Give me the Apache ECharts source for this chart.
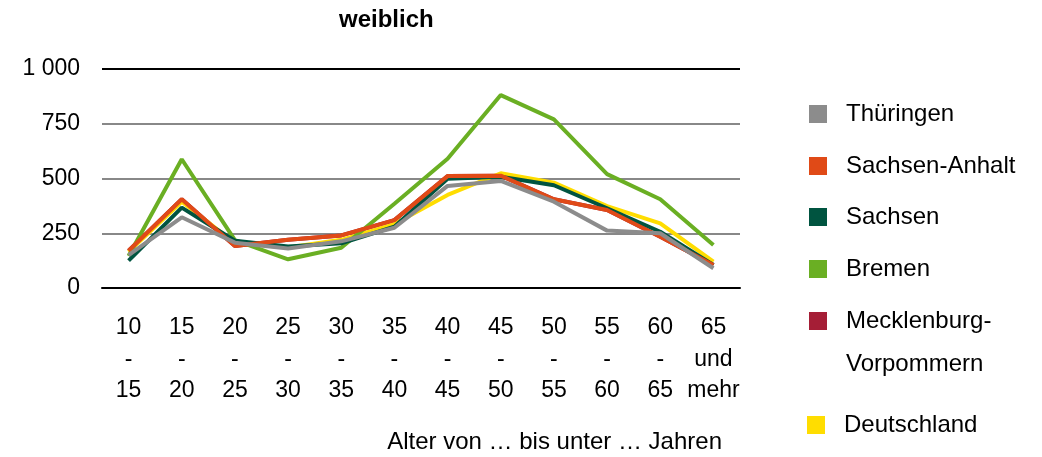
<!DOCTYPE html>
<html>
<head>
<meta charset="utf-8">
<script src="https://cdn.jsdelivr.net/npm/echarts@6/dist/echarts.min.js"></script>
<style>
html, body { margin: 0; padding: 0; background: #fff; }
#chart { width: 1042px; height: 457px; }
</style>
</head>
<body>
<div id="chart"></div>
<script>
// Altersgruppen
const categories = ['10\n-\n15', '15\n-\n20', '20\n-\n25', '25\n-\n30', '30\n-\n35', '35\n-\n40',
  '40\n-\n45', '45\n-\n50', '50\n-\n55', '55\n-\n60', '60\n-\n65', '65\nund\nmehr']
const yTicks = [0, 250, 500, 750, 1000]

const thueringen = [150, 323, 207, 180, 213, 275, 466, 489, 394, 262, 250, 90]
const sachsenAnhalt = [170, 405, 192, 220, 240, 310, 511, 513, 405, 356, 234, 105]
const sachsen = [125, 367, 216, 190, 204, 280, 499, 508, 469, 364, 257, 105]
const bremen = [146, 588, 219, 131, 184, 385, 590, 881, 770, 520, 405, 196]
const mecklenburg = [170, 405, 192, 220, 240, 310, 511, 513, 405, 356, 234, 105]
const deutschland = [165, 394, 205, 185, 220, 292, 425, 524, 481, 374, 295, 120]

const font = 'Liberation Sans, Arial, sans-serif'

function line(name, data, color, z) {
  return {
    name: name,
    type: 'line',
    data: data,
    symbol: 'none',
    z: z,
    lineStyle: { color: color, width: 4 },
    itemStyle: { color: color }
  }
}

// one legend per entry so the uneven spacing can be matched
const legendItems = [
  ['Thüringen', 804, 92], ['Sachsen-Anhalt', 804, 144], ['Sachsen', 804, 195],
  ['Bremen', 804, 247], ['Mecklenburg-Vorpommern', 804, 299], ['Deutschland', 802, 403]
]

const chart = echarts.init(document.getElementById('chart'))
chart.setOption({
  animation: false,
  title: {
    text: 'weiblich',
    left: 334,
    top: 3,
    textStyle: { fontFamily: font, fontSize: 24, fontWeight: 'bold', color: '#000' }
  },
  legend: legendItems.map(function (it) {
    return {
      data: [it[0]],
      left: it[1],
      top: it[2],
      icon: 'rect',
      itemWidth: 18,
      itemHeight: 18,
      selectedMode: false,
      formatter: function (n) { return n === 'Mecklenburg-Vorpommern' ? 'Mecklenburg-' : n },
      textStyle: { fontFamily: font, fontSize: 24, color: '#000', lineHeight: 24, padding: [10, 0, 0, 14] }
    }
  }),
  grid: { left: 102, right: 302, top: 69, bottom: 169 },
  xAxis: {
    type: 'category',
    data: categories,
    boundaryGap: true,
    axisLine: { lineStyle: { color: '#000', width: 2 } },
    axisTick: { show: false },
    axisLabel: {
      interval: 0,
      margin: 24,
      fontFamily: font,
      fontSize: 23,
      color: '#000',
      lineHeight: 31.5
    }
  },
  yAxis: {
    type: 'value',
    min: yTicks[0],
    max: yTicks[yTicks.length - 1],
    interval: 250,
    axisLine: { show: false },
    axisTick: { show: false },
    axisLabel: {
      margin: 22,
      fontFamily: font,
      fontSize: 23,
      color: '#000',
      formatter: function (v) { return v >= 1000 ? '1 000' : String(v) }
    },
    splitLine: { lineStyle: { color: ['#000', '#888', '#888', '#888', '#000'], width: 2 } }
  },
  graphic: [{
    type: 'text',
    right: 320,
    top: 430,
    style: { text: 'Alter von … bis unter … Jahren', font: '24px ' + font, fill: '#000' }
  }, {
    type: 'text',
    left: 846,
    top: 352,
    style: { text: 'Vorpommern', font: '24px ' + font, fill: '#000' }
  }],
  series: [
    line('Mecklenburg-Vorpommern', mecklenburg, '#A51E36', 1),
    line('Deutschland', deutschland, '#FFDD00', 2),
    line('Bremen', bremen, '#6AAF23', 3),
    line('Sachsen', sachsen, '#005440', 4),
    line('Sachsen-Anhalt', sachsenAnhalt, '#E04A17', 5),
    line('Thüringen', thueringen, '#8C8C8C', 6)
  ]
})
</script>
</body>
</html>
